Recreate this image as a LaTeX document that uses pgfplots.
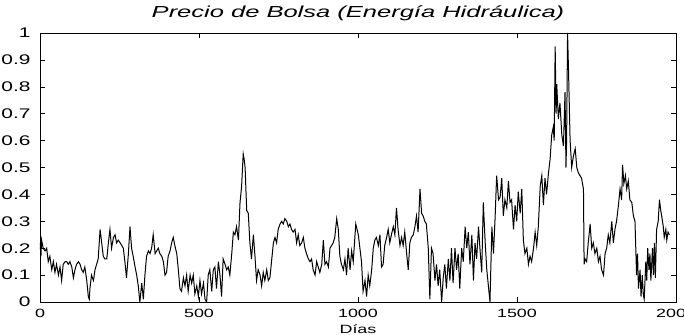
\documentclass[border=0pt]{standalone}
\usepackage{fontspec}
\setmainfont{Liberation Sans}[FakeStretch=1.5]
\newfontfamily\titlefont{Liberation Sans}[FakeStretch=1.6]
\usepackage{pgfplots}
\pgfplotsset{compat=1.18}
\pgfplotstableread{
day val
0 0.22
3 0.17
5 0.23
10 0.20
16 0.19
21 0.20
26 0.15
31 0.17
37 0.12
42 0.15
47 0.11
52 0.14
58 0.10
63 0.13
68 0.08
73 0.14
79 0.15
84 0.15
89 0.14
94 0.15
100 0.13
105 0.09
110 0.12
115 0.14
121 0.15
126 0.14
131 0.12
136 0.11
141 0.13
147 0.08
152 0.02
155 0.01
157 0.05
162 0.10
168 0.08
173 0.12
178 0.14
183 0.16
189 0.27
194 0.22
199 0.17
204 0.16
210 0.16
215 0.22
220 0.27
225 0.20
231 0.24
236 0.25
241 0.22
246 0.23
252 0.22
257 0.21
262 0.20
267 0.15
272 0.09
278 0.18
283 0.28
288 0.20
293 0.17
299 0.13
304 0.10
309 0.06
314 0.00
320 0.07
325 0.01
330 0.10
335 0.17
341 0.19
346 0.18
351 0.20
356 0.25
362 0.18
367 0.19
372 0.20
377 0.18
383 0.17
388 0.15
393 0.10
398 0.11
403 0.17
409 0.19
414 0.22
419 0.24
424 0.21
430 0.18
435 0.12
440 0.05
445 0.04
451 0.09
456 0.06
461 0.10
466 0.04
472 0.10
477 0.07
482 0.10
487 0.03
493 0.06
498 0.02
503 0.08
508 0.03
514 0.07
519 0.01
524 0.00
529 0.10
534 0.12
540 0.04
545 0.12
550 0.13
555 0.05
561 0.15
566 0.10
571 0.02
576 0.16
582 0.14
587 0.12
592 0.13
597 0.10
603 0.18
608 0.26
613 0.25
618 0.28
624 0.23
629 0.37
634 0.43
639 0.55
642 0.53
645 0.50
650 0.34
655 0.33
660 0.22
665 0.16
671 0.25
676 0.17
681 0.08
686 0.12
692 0.10
697 0.06
702 0.11
707 0.08
713 0.12
718 0.08
723 0.09
728 0.15
734 0.22
739 0.24
744 0.22
749 0.27
755 0.29
760 0.30
765 0.29
770 0.31
776 0.30
781 0.28
786 0.29
791 0.27
796 0.26
802 0.27
807 0.22
812 0.25
817 0.21
823 0.22
828 0.24
833 0.20
838 0.18
844 0.16
849 0.15
854 0.16
859 0.12
865 0.10
870 0.15
875 0.13
880 0.11
886 0.14
891 0.23
896 0.14
901 0.15
907 0.13
912 0.20
917 0.21
922 0.22
927 0.24
933 0.31
938 0.27
943 0.17
948 0.14
954 0.12
959 0.16
964 0.10
969 0.20
975 0.12
980 0.19
985 0.15
993 0.29
1001 0.25
1006 0.20
1011 0.15
1016 0.04
1022 0.08
1027 0.02
1032 0.10
1037 0.06
1043 0.12
1048 0.20
1053 0.23
1058 0.24
1064 0.21
1069 0.25
1074 0.13
1079 0.14
1084 0.21
1090 0.24
1095 0.27
1100 0.22
1105 0.25
1111 0.28
1116 0.25
1121 0.35
1126 0.27
1132 0.21
1137 0.24
1142 0.21
1147 0.26
1153 0.18
1158 0.12
1163 0.22
1168 0.24
1174 0.25
1179 0.28
1184 0.32
1189 0.26
1195 0.42
1200 0.33
1205 0.32
1210 0.30
1215 0.29
1221 0.20
1226 0.01
1231 0.20
1236 0.18
1242 0.08
1247 0.14
1252 0.06
1257 0.12
1263 0.00
1268 0.09
1273 0.14
1278 0.05
1284 0.16
1289 0.08
1294 0.20
1299 0.07
1305 0.20
1310 0.12
1315 0.18
1320 0.05
1326 0.20
1331 0.15
1337 0.28
1342 0.20
1347 0.26
1352 0.14
1358 0.25
1363 0.08
1368 0.22
1373 0.16
1379 0.28
1384 0.19
1389 0.11
1394 0.37
1400 0.22
1405 0.12
1410 0.06
1415 0.00
1421 0.28
1426 0.18
1431 0.31
1436 0.47
1442 0.38
1447 0.39
1452 0.46
1457 0.32
1462 0.38
1468 0.35
1473 0.45
1478 0.37
1483 0.38
1489 0.27
1494 0.36
1499 0.30
1504 0.41
1510 0.33
1515 0.42
1520 0.23
1525 0.18
1531 0.20
1536 0.14
1541 0.17
1546 0.15
1552 0.20
1557 0.26
1562 0.21
1567 0.28
1573 0.43
1578 0.47
1583 0.36
1588 0.46
1593 0.40
1599 0.48
1604 0.53
1609 0.62
1614 0.65
1617 0.60
1620 0.95
1623 0.70
1625 0.81
1630 0.68
1635 0.74
1641 0.62
1646 0.58
1651 0.78
1654 0.50
1656 0.60
1659 1.00
1662 0.86
1667 0.60
1672 0.50
1677 0.54
1683 0.57
1688 0.50
1693 0.48
1698 0.47
1703 0.46
1709 0.42
1711 0.14
1714 0.16
1719 0.15
1724 0.22
1730 0.29
1735 0.20
1740 0.22
1745 0.18
1751 0.20
1756 0.15
1761 0.17
1766 0.12
1772 0.10
1777 0.18
1782 0.20
1787 0.25
1792 0.22
1798 0.30
1803 0.22
1808 0.27
1813 0.30
1819 0.36
1824 0.42
1829 0.38
1832 0.51
1836 0.44
1841 0.47
1845 0.42
1850 0.45
1855 0.38
1861 0.37
1866 0.32
1871 0.30
1876 0.10
1879 0.18
1882 0.05
1887 0.12
1890 0.02
1894 0.10
1897 0.03
1900 0.01
1905 0.15
1908 0.08
1911 0.20
1915 0.12
1918 0.18
1921 0.08
1926 0.20
1929 0.10
1932 0.22
1935 0.09
1939 0.27
1944 0.30
1948 0.38
1952 0.34
1955 0.32
1960 0.28
1963 0.24
1968 0.27
1971 0.23
1975 0.26
1979 0.25
}\pricedata
\begin{document}
\begin{tikzpicture}
\begin{axis}[
  scale only axis, width=636bp, height=269bp,
  xmin=0, xmax=2000, ymin=0, ymax=1,
  xtick={0,500,1000,1500,2000},
  ytick={0,0.1,0.2,0.3,0.4,0.5,0.6,0.7,0.8,0.9,1},
  yticklabels={0,0.1,0.2,0.3,0.4,0.5,0.6,0.7,0.8,0.9,1},
  tick align=inside, major tick length=5bp,
  tick style={black, line width=0.5bp},
  axis line style={line width=0.6bp},
  xticklabel style={font=\fontsize{12}{12}\selectfont, anchor=base, yshift=-15bp},
  yticklabel style={font=\fontsize{14}{14}\selectfont, xshift=-6bp},
  /pgf/number format/assume math mode=true,
  /pgf/number format/1000 sep={},
  title={Precio de Bolsa (Energía Hidráulica)},
  title style={font=\titlefont\fontsize{16}{16}\selectfont\itshape, at={(0.5,1)}, anchor=base, yshift=10bp},
  xlabel={Días},
  xlabel style={font=\fontsize{12}{12}\selectfont, at={(0.5,0)}, anchor=base, yshift=-31bp},
  clip=true,
]
\coordinate (sw) at (rel axis cs:0,0);
\addplot[black, line width=1bp] table[x=day, y=val] {\pricedata};
\end{axis}
\pgfresetboundingbox
\path (sw) ++(-40bp,-33bp) rectangle ++(684bp,335bp);
\end{tikzpicture}
\end{document}
